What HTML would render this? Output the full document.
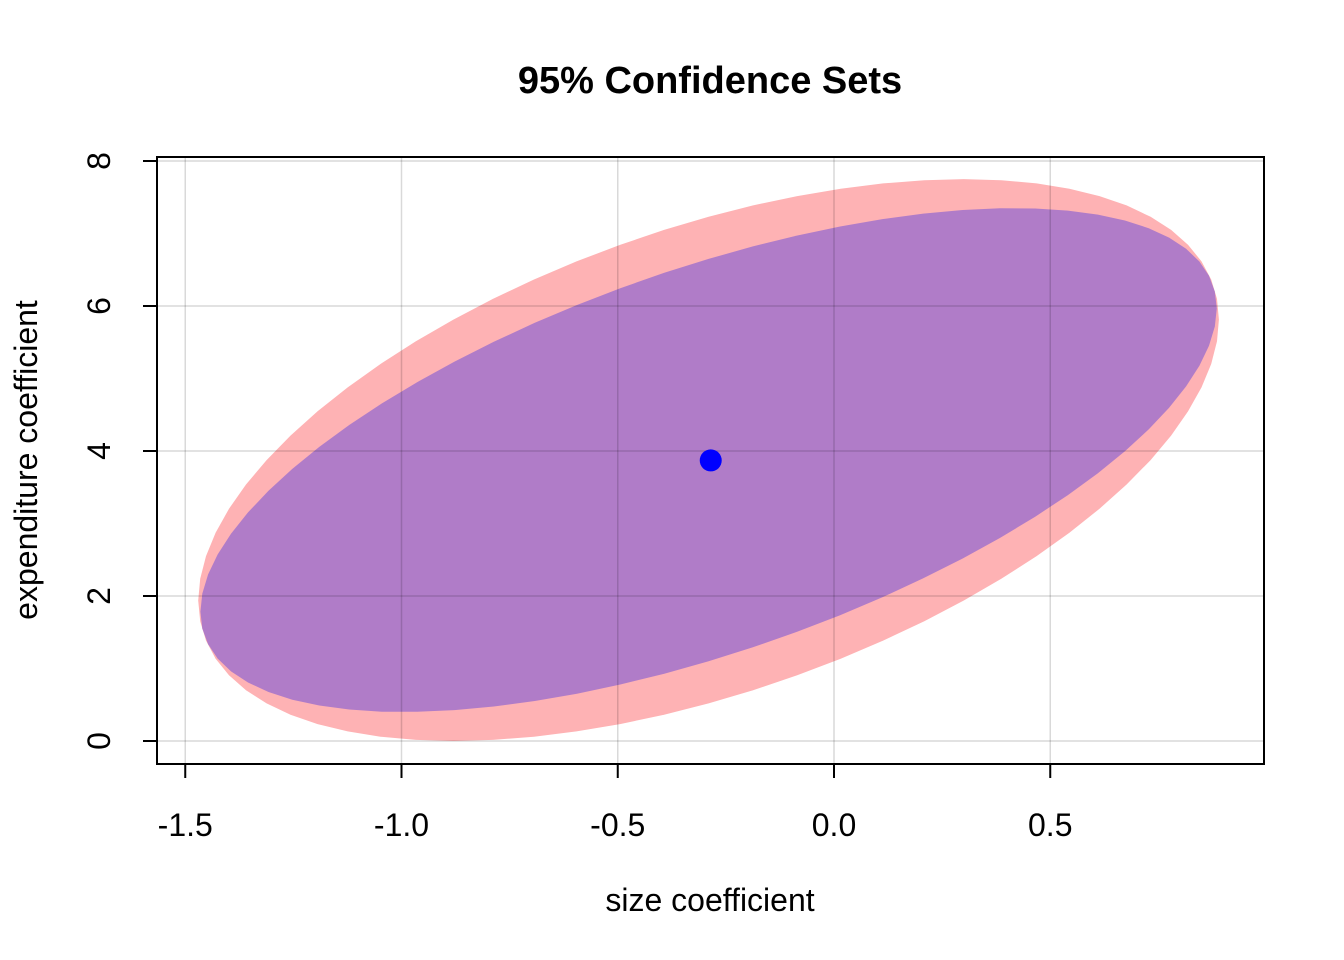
<!DOCTYPE html>
<html><head><meta charset="utf-8"><style>
html,body{margin:0;padding:0;background:#fff;}
svg{display:block;font-family:"Liberation Sans",Arial,sans-serif;}
</style></head><body>
<svg id="chart" width="1344" height="960" viewBox="0 0 1344 960">
<text x="710" y="93" text-anchor="middle" font-size="38" font-weight="bold">95% Confidence Sets</text>
<g id="plot"></g>
<text x="710" y="911" text-anchor="middle" font-size="32">size coefficient</text>
<text transform="translate(37,460) rotate(-90)" text-anchor="middle" font-size="32">expenditure coefficient</text>
</svg>
<script>
const xTicks = [-1.5, -1.0, -0.5, 0.0, 0.5];
const xTickLabels = ["-1.5", "-1.0", "-0.5", "0.0", "0.5"];
const yTicks = [0, 2, 4, 6, 8];
const yTickLabels = ["0", "2", "4", "6", "8"];
const estimate = [-0.285, 3.87];
const ellipseNames = ["scheffe-region", "confidence-ellipse"];
const ellipseCenterX = [-0.29, -0.29];
const ellipseCenterY = [3.875, 3.875];
const ellipseHalfX = [1.18, 1.175];
const ellipseHalfY = [3.875, 3.475];
const ellipsePhase = [60, 53];
const ellipseColors = ["#feb2b4", "#b07cc8"];

const X = v => 834 + (v - 0) * 432.5;
const Y = v => 741 - v * 72.5;
const NS = "http://www.w3.org/2000/svg";
const g = document.getElementById("plot");
function mk(t, a, parent) { const e = document.createElementNS(NS, t); for (const k in a) e.setAttribute(k, a[k]); (parent || g).appendChild(e); return e; }

ellipseNames.forEach((n, i) => {
  const pts = [];
  for (let k = 0; k < 72; k++) {
    const t = k / 72 * 2 * Math.PI;
    const x = ellipseCenterX[i] + ellipseHalfX[i] * Math.cos(t);
    const y = ellipseCenterY[i] + ellipseHalfY[i] * Math.cos(t - ellipsePhase[i] * Math.PI / 180);
    pts.push(X(x).toFixed(1) + "," + Y(y).toFixed(1));
  }
  const p = mk("polygon", { points: pts.join(" "), fill: ellipseColors[i] });
  
  
});

xTicks.forEach((v, i) => {
  const l = mk("line", { x1: X(v), x2: X(v), y1: 157, y2: 764, stroke: "rgba(0,0,0,0.15)", "stroke-width": 1.5 });
  
  
  const t = mk("line", { x1: X(v), x2: X(v), y1: 764, y2: 778, stroke: "#000", "stroke-width": 2 });
  
  
  const tx = mk("text", { x: X(v), y: 836, "text-anchor": "middle", "font-size": 32 });
  tx.textContent = xTickLabels[i];
  
  
});
yTicks.forEach((v, i) => {
  const l = mk("line", { x1: 157, x2: 1264, y1: Y(v), y2: Y(v), stroke: "rgba(0,0,0,0.15)", "stroke-width": 1.5 });
  
  
  const t = mk("line", { x1: 143, x2: 157, y1: Y(v), y2: Y(v), stroke: "#000", "stroke-width": 2 });
  
  
  const tx = mk("text", { transform: `translate(110,${Y(v)}) rotate(-90)`, "text-anchor": "middle", "font-size": 32 });
  tx.textContent = yTickLabels[i];
  
  
});
const pt = mk("circle", { cx: X(estimate[0]), cy: Y(estimate[1]), r: 11, fill: "#0000ff" });


const box = mk("rect", { x: 157, y: 157, width: 1107, height: 607, fill: "none", stroke: "#000", "stroke-width": 2 });


</script>
</body></html>
